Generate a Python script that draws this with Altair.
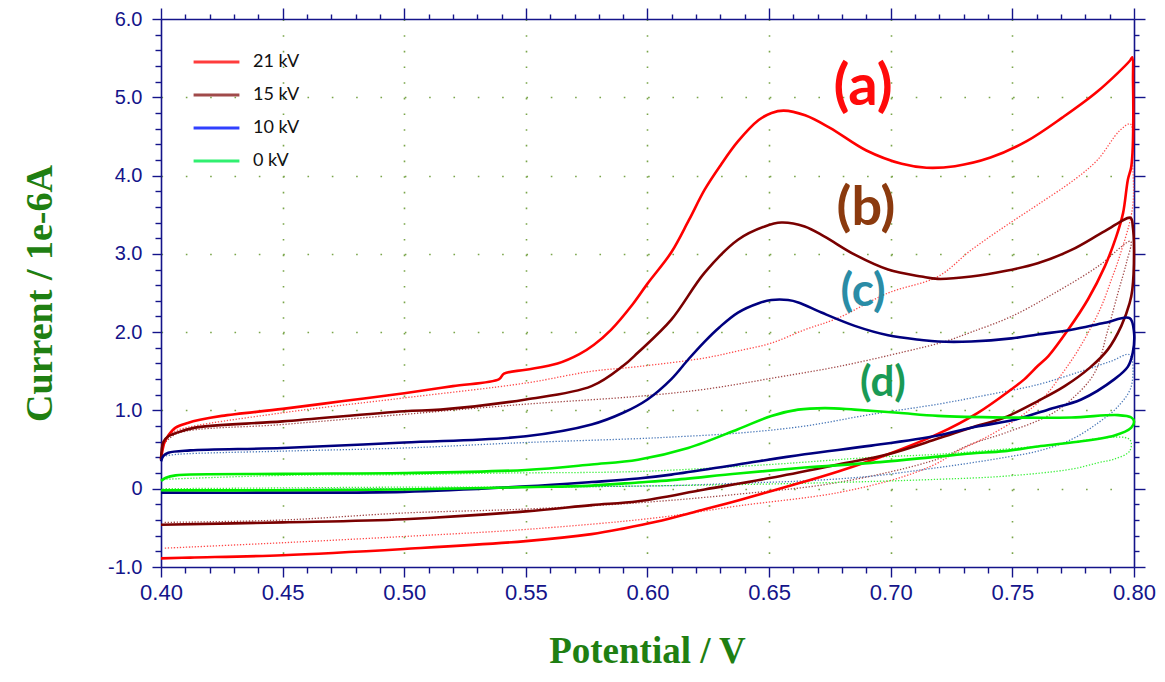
import altair as alt
import pandas as pd

SERIES = ["21 kV", "15 kV", "10 kV", "0 kV"]
SOLID_COLORS = ["#ff0000", "#7a0000", "#00007f", "#00ee00"]
DOTTED_COLORS = ["#ff4a4a", "#a04848", "#4a78b8", "#3cf03c"]
LEGEND_COLORS = ["#ff3c3c", "#a04a4a", "#3040ff", "#30f070"]

# ---- solid CV loops (potential V, current 1e-6 A) ----
red_v = [0.400, 0.4015, 0.403, 0.406, 0.411, 0.416, 0.425, 0.450, 0.475, 0.500, 0.520, 0.539, 0.541, 0.550, 0.563, 0.572, 0.578, 0.585, 0.594, 0.600, 0.6098, 0.617, 0.6235, 0.630, 0.637, 0.6457, 0.651, 0.656, 0.6648, 0.675, 0.690, 0.7045, 0.7147, 0.7264, 0.741, 0.7559, 0.7705, 0.7852, 0.7984, 0.7993,
         0.7996, 0.7997, 0.7994, 0.7988, 0.7975, 0.7955, 0.7927, 0.788, 0.7811, 0.7729, 0.7647, 0.7605, 0.755, 0.7496, 0.7358, 0.7194, 0.6989, 0.6784, 0.6578, 0.6372, 0.620, 0.604, 0.590, 0.577, 0.550, 0.500, 0.450, 0.412, 0.400]
red_i = [0.38, 0.60, 0.68, 0.78, 0.84, 0.88, 0.93, 1.02, 1.12, 1.22, 1.31, 1.40, 1.47, 1.52, 1.60, 1.72, 1.84, 2.03, 2.36, 2.62, 3.02, 3.43, 3.82, 4.13, 4.43, 4.71, 4.80, 4.83, 4.77, 4.61, 4.32, 4.15, 4.10, 4.12, 4.23, 4.44, 4.74, 5.08, 5.47, 5.51,
         5.20, 4.70, 4.30, 4.10, 3.95, 3.52, 3.22, 2.84, 2.42, 2.03, 1.69, 1.57, 1.40, 1.27, 0.97, 0.70, 0.44, 0.22, 0.03, -0.15, -0.29, -0.42, -0.51, -0.58, -0.67, -0.77, -0.85, -0.88, -0.89]

brown_v = [0.400, 0.401, 0.403, 0.406, 0.414, 0.45, 0.50, 0.515, 0.55, 0.577, 0.590, 0.5961, 0.6098, 0.6235, 0.6372, 0.6482, 0.655, 0.6646, 0.6728, 0.6852, 0.6989, 0.7126, 0.7194, 0.7331, 0.7469, 0.7604, 0.7743, 0.788, 0.7986,
           0.7995, 0.8000, 0.7993, 0.7982, 0.7948, 0.7893, 0.782, 0.7715, 0.7605, 0.7468, 0.733, 0.7194, 0.6989, 0.6784, 0.6509, 0.6235, 0.5961, 0.577, 0.55, 0.50, 0.45, 0.40]
brown_i = [0.37, 0.60, 0.67, 0.71, 0.78, 0.86, 0.99, 1.01, 1.14, 1.31, 1.57, 1.74, 2.16, 2.76, 3.18, 3.35, 3.40, 3.35, 3.22, 2.99, 2.80, 2.71, 2.68, 2.71, 2.78, 2.88, 3.05, 3.29, 3.46,
           3.35, 3.05, 2.54, 2.37, 2.08, 1.78, 1.55, 1.31, 1.12, 0.91, 0.78, 0.64, 0.44, 0.31, 0.14, -0.01, -0.16, -0.21, -0.29, -0.39, -0.43, -0.46]

blue_v = [0.400, 0.401, 0.403, 0.412, 0.45, 0.50, 0.55, 0.577, 0.590, 0.600, 0.6098, 0.617, 0.6235, 0.6295, 0.6372, 0.6457, 0.6509, 0.6578, 0.662, 0.6715, 0.6852, 0.6989, 0.7126, 0.7194, 0.7331, 0.7496, 0.7604, 0.7743, 0.788, 0.7982,
          0.8000, 0.7995, 0.7975, 0.792, 0.7783, 0.7646, 0.7508, 0.733, 0.7194, 0.692, 0.6646, 0.6372, 0.6098, 0.5961, 0.577, 0.55, 0.50, 0.45, 0.40]
blue_i = [0.35, 0.42, 0.46, 0.49, 0.52, 0.59, 0.67, 0.82, 0.97, 1.14, 1.40, 1.66, 1.88, 2.06, 2.25, 2.37, 2.41, 2.41, 2.38, 2.25, 2.08, 1.96, 1.90, 1.88, 1.88, 1.92, 1.97, 2.03, 2.12, 2.18,
          2.00, 1.74, 1.56, 1.40, 1.14, 1.01, 0.88, 0.78, 0.68, 0.55, 0.44, 0.31, 0.18, 0.13, 0.085, 0.03, -0.04, -0.05, -0.05]

green_v = [0.400, 0.402, 0.406, 0.45, 0.50, 0.55, 0.577, 0.5961, 0.6167, 0.6372, 0.6509, 0.6619, 0.6729, 0.6851, 0.703, 0.7194, 0.7468, 0.7743, 0.7934, 0.7989, 0.8000,
           0.7989, 0.792, 0.7743, 0.7605, 0.7468, 0.733, 0.7194, 0.692, 0.6646, 0.6372, 0.6098, 0.5961, 0.577, 0.55, 0.50, 0.45, 0.40]
green_i = [0.10, 0.14, 0.17, 0.19, 0.20, 0.24, 0.31, 0.37, 0.52, 0.76, 0.93, 1.01, 1.03, 1.01, 0.97, 0.93, 0.91, 0.91, 0.94, 0.91, 0.86,
           0.78, 0.68, 0.59, 0.54, 0.48, 0.45, 0.41, 0.33, 0.27, 0.195, 0.11, 0.08, 0.04, 0.02, -0.01, -0.02, -0.02]

# ---- dotted (background) loops ----
red_d_v = [0.401, 0.404, 0.408, 0.45, 0.50, 0.55, 0.577, 0.5961, 0.6235, 0.6372, 0.6509, 0.6646, 0.6783, 0.6989, 0.7194, 0.7331, 0.7469, 0.7605, 0.7756, 0.785, 0.794, 0.7985,
           0.7994, 0.7994, 0.7941, 0.7907, 0.7866, 0.7811, 0.776, 0.770, 0.7633, 0.7537, 0.740, 0.7263, 0.7194, 0.7057, 0.6784, 0.6372, 0.604, 0.55, 0.50, 0.45, 0.401]
red_d_i = [0.55, 0.70, 0.76, 0.97, 1.16, 1.35, 1.50, 1.56, 1.67, 1.76, 1.86, 2.03, 2.18, 2.50, 2.71, 3.05, 3.35, 3.63, 3.95, 4.20, 4.57, 4.66,
           4.20, 3.59, 2.97, 2.67, 2.33, 1.99, 1.72, 1.45, 1.18, 0.93, 0.67, 0.46, 0.33, 0.16, -0.05, -0.22, -0.37, -0.52, -0.61, -0.69, -0.76]

brown_d_v = [0.402, 0.407, 0.45, 0.50, 0.55, 0.5961, 0.6235, 0.6509, 0.6783, 0.7057, 0.7222, 0.7331, 0.7496, 0.7674, 0.7852, 0.7986,
             0.797, 0.7934, 0.789, 0.7838, 0.7742, 0.7646, 0.7468, 0.733, 0.7194, 0.6784, 0.6372, 0.5961, 0.55, 0.50, 0.45, 0.401]
brown_d_i = [0.60, 0.71, 0.82, 0.95, 1.08, 1.18, 1.27, 1.41, 1.56, 1.75, 1.88, 2.00, 2.20, 2.50, 2.84, 3.16,
             2.90, 2.50, 2.00, 1.48, 1.14, 0.93, 0.71, 0.57, 0.38, 0.08, -0.07, -0.18, -0.26, -0.31, -0.40, -0.43]

blue_d_v = [0.402, 0.407, 0.45, 0.50, 0.55, 0.5961, 0.6098, 0.6372, 0.6646, 0.692, 0.7194, 0.740, 0.7605, 0.7783, 0.7907, 0.7982,
            0.7989, 0.7934, 0.7852, 0.7743, 0.7605, 0.7468, 0.733, 0.7194, 0.692, 0.6646, 0.6372, 0.6098, 0.55, 0.50, 0.45, 0.402]
blue_d_i = [0.42, 0.44, 0.48, 0.52, 0.59, 0.64, 0.66, 0.71, 0.80, 0.95, 1.08, 1.20, 1.33, 1.50, 1.63, 1.71,
            1.31, 1.05, 0.84, 0.63, 0.48, 0.40, 0.33, 0.27, 0.16, 0.10, 0.07, 0.04, 0.02, 0.00, -0.01, -0.02]

green_d_v = [0.401, 0.45, 0.50, 0.54, 0.5961, 0.6509, 0.692, 0.7194, 0.7605, 0.7982,
             0.7982, 0.792, 0.785, 0.7743, 0.7468, 0.7194, 0.6646, 0.6098, 0.55, 0.50, 0.45, 0.401]
green_d_i = [0.12, 0.17, 0.18, 0.20, 0.22, 0.31, 0.40, 0.44, 0.54, 0.63,
             0.48, 0.38, 0.33, 0.25, 0.16, 0.12, 0.07, 0.04, 0.02, 0.02, 0.01, 0.00]

# ---- annotations ----
ANN_TEXT = ["(a)", "(b)", "(c)", "(d)"]
ANN_V = [0.6886, 0.6898, 0.6886, 0.6968]
ANN_I = [5.12, 3.57, 2.51, 1.35]
ANN_COLOR = ["#ff0a0a", "#8b3a0e", "#2a8ca6", "#1a9a55"]
ANN_SIZE = [58, 54, 46, 42]

# ---- axis ticks ----
X_TICKS = [round(0.40 + 0.01 * k, 2) for k in range(41)]
Y_TICKS = [round(-1.0 + 0.2 * k, 1) for k in range(36)]

NAVY = "#14148a"
TITLE_GREEN = "#1f7f12"
GRID = "#7aa54a"


def frame(pairs, kind):
    rows = []
    for name, vs, cs in pairs:
        for k, (v, c) in enumerate(zip(vs, cs)):
            rows.append({"series": name, "V": v, "I": c, "k": k, "kind": kind})
    return pd.DataFrame(rows)


solid_df = frame([("21 kV", red_v, red_i), ("15 kV", brown_v, brown_i),
                  ("10 kV", blue_v, blue_i), ("0 kV", green_v, green_i)], "solid")
dotted_df = frame([("21 kV", red_d_v, red_d_i), ("15 kV", brown_d_v, brown_d_i),
                   ("10 kV", blue_d_v, blue_d_i), ("0 kV", green_d_v, green_d_i)], "dotted")
ann_df = pd.DataFrame({"t": ANN_TEXT, "V": ANN_V, "I": ANN_I, "c": ANN_COLOR, "fs": ANN_SIZE})
leg_df = pd.DataFrame({"name": SERIES, "V": [0.6] * 4, "I": [50.0] * 4})

x_scale = alt.Scale(domain=[0.40, 0.80], nice=False, zero=False)
y_scale = alt.Scale(domain=[-1.0, 6.0], nice=False, zero=False)

MAJ_X = "abs(datum.value*20 - round(datum.value*20)) < 0.001"
MAJ_Y = "abs(datum.value - round(datum.value)) < 0.001"


def tick_size(test, major, minor):
    return {"condition": {"test": test, "value": major}, "value": minor}


bottom_axis = alt.Axis(
    values=X_TICKS,
    labelExpr=f"({MAJ_X}) ? format(datum.value, '.2f') : ''",
    labelOverlap=False, labelFlush=False, labelBound=False,
    tickSize=tick_size(MAJ_X, 10, 6), tickWidth=1.4, tickColor=NAVY,
    domainColor=NAVY, domainWidth=1.6,
    labelColor=NAVY, labelFont="Liberation Sans", labelFontSize=22,
    labelPadding=5,
    grid=True, gridColor=GRID, gridWidth=1.6, gridDash=[1.6, 14.07],
    gridOpacity={"condition": {"test": f"({MAJ_X}) && datum.value > 0.41 && datum.value < 0.79", "value": 1}, "value": 0},
    title="Potential / V", titleFont="Liberation Serif", titleFontWeight="bold",
    titleFontSize=37, titleColor=TITLE_GREEN, titleX=486, titleY=95, titleBaseline="alphabetic",
)
left_axis = alt.Axis(
    values=Y_TICKS,
    labelExpr=f"({MAJ_Y}) ? (abs(datum.value) < 0.001 ? '0' : ((datum.value < 0 ? '-' : '') + format(abs(datum.value), '.1f'))) : ''",
    labelOverlap=False, labelFlush=False, labelBound=False,
    tickSize=tick_size(MAJ_Y, 9, 6), tickWidth=1.4, tickColor=NAVY,
    domainColor=NAVY, domainWidth=1.6,
    labelColor=NAVY, labelFont="Liberation Sans", labelFontSize=20, labelPadding=10,
    grid=True, gridColor=GRID, gridWidth=1.6, gridDash=[1.6, 22.73],
    gridOpacity={"condition": {"test": f"({MAJ_Y}) && datum.value > -0.9 && datum.value < 5.9", "value": 1}, "value": 0},
    title="Current / 1e-6A", titleFont="Liberation Serif", titleFontWeight="bold",
    titleFontSize=38, titleColor=TITLE_GREEN, titleX=-121, titleY=274, titleBaseline="middle",
    titleAngle=270,
)
top_axis = alt.Axis(
    orient="top", values=X_TICKS, labels=False, title=None, grid=False,
    tickSize=tick_size(MAJ_X, 11, 5), tickWidth=1.4, tickColor=NAVY,
    domainColor=NAVY, domainWidth=1.6,
)
right_axis = alt.Axis(
    orient="right", values=Y_TICKS, labels=False, title=None, grid=False,
    tickSize=tick_size(MAJ_Y, 11, 5), tickWidth=1.4, tickColor=NAVY,
    domainColor=NAVY, domainWidth=1.6,
)

dotted = alt.Chart(dotted_df).mark_line(strokeWidth=1.3, strokeDash=[1.3, 1.7], interpolate="catmull-rom").encode(
    x=alt.X("V:Q", scale=x_scale, axis=None),
    y=alt.Y("I:Q", scale=y_scale, axis=None),
    color=alt.Color("series:N", scale=alt.Scale(domain=SERIES, range=DOTTED_COLORS), legend=None),
    order="k:Q",
)

solid = alt.Chart(solid_df).mark_line(strokeWidth=2.6, strokeJoin="round", interpolate="catmull-rom").encode(
    x=alt.X("V:Q", scale=x_scale, axis=bottom_axis),
    y=alt.Y("I:Q", scale=y_scale, axis=left_axis),
    color=alt.Color("series:N", scale=alt.Scale(domain=SERIES, range=SOLID_COLORS), legend=None),
    order="k:Q",
)

ann = alt.Chart(ann_df).mark_text(font="Lato", fontWeight="bold", baseline="middle", align="center").encode(
    x=alt.X("V:Q", scale=x_scale, axis=top_axis),
    y=alt.Y("I:Q", scale=y_scale, axis=right_axis),
    text="t:N",
    color=alt.Color("c:N", scale=None),
    size=alt.Size("fs:Q", scale=None),
)

legend_layer = alt.Chart(leg_df).mark_line(clip=True, strokeWidth=3).encode(
    x=alt.X("V:Q", scale=x_scale, axis=None),
    y=alt.Y("I:Q", scale=y_scale, axis=None),
    color=alt.Color(
        "name:N",
        scale=alt.Scale(domain=SERIES, range=LEGEND_COLORS),
        legend=alt.Legend(
            title=None, orient="none", legendX=31, legendY=33,
            symbolType="stroke", symbolSize=2100, symbolStrokeWidth=3,
            clipHeight=20, rowPadding=13, labelOffset=12, padding=0,
            labelFont="Lato", labelFontSize=18, labelColor="#111111",
        ),
    ),
)

chart = (
    alt.layer(dotted, solid, ann, legend_layer)
    .resolve_scale(color="independent")
    .resolve_axis(x="independent", y="independent")
    .properties(
        width=973, height=548,
        autosize=alt.AutoSizeParams(type="none"),
        padding={"left": 153, "top": 11, "right": 23, "bottom": 105},
        background="white",
    )
    .configure_view(stroke=None)
)

chart.save("out.html", embed_options={"renderer": "svg", "actions": False})
